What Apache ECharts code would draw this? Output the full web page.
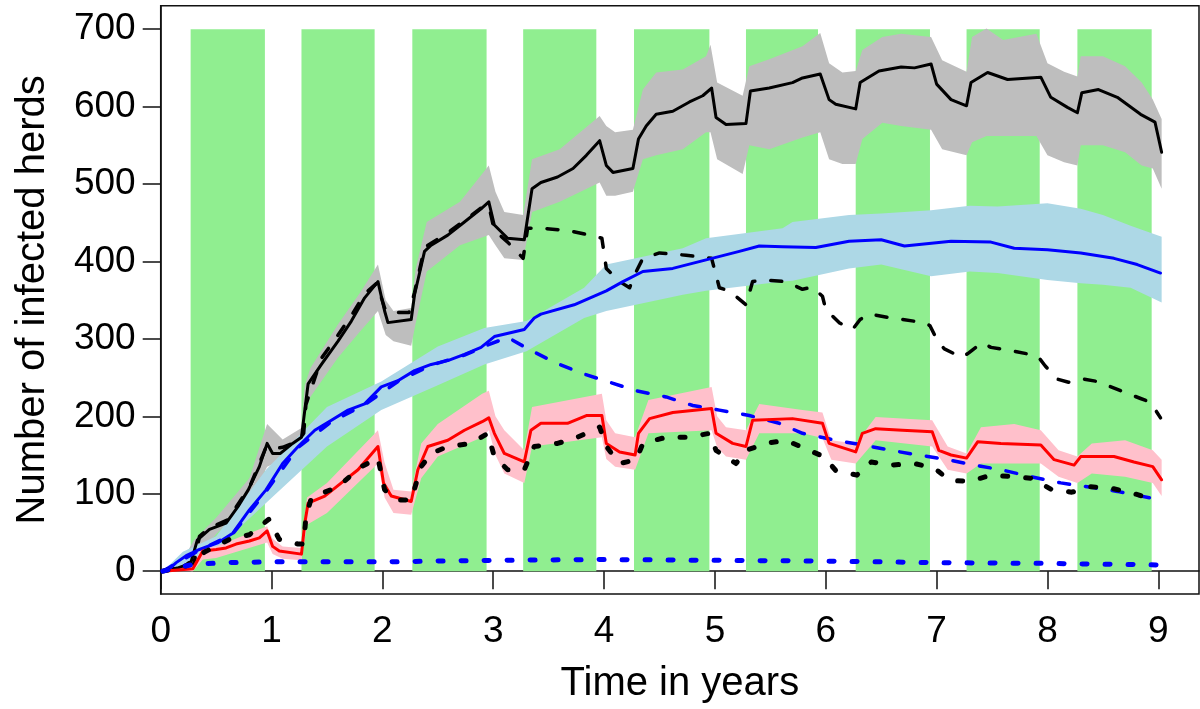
<!DOCTYPE html>
<html>
<head>
<meta charset="utf-8">
<script src="https://cdn.jsdelivr.net/npm/echarts@6/dist/echarts.min.js"></script>
<style>
html,body{margin:0;padding:0;background:#fff;}
#chart{width:1200px;height:709px;}
</style>
</head>
<body>
<div id="chart"></div>
<script>
// ---------- data ----------
var xTicks = [0,1,2,3,4,5,6,7,8,9];
var yTicks = [0,100,200,300,400,500,600,700];

// grazing-season bands (years)
var bandStarts = [0.27,1.27,2.27,3.27,4.27,5.28,6.27,7.27,8.27];
var bandEnds   = [0.94,1.93,2.94,3.93,4.95,5.93,6.94,7.93,8.94];
var bandBottom = 0;
var bandTop = 700;

var blackSolid = [[0.02,0],[0.15,4],[0.27,10],[0.33,40],[0.44,54],[0.59,62],[0.70,84],[0.79,105],[0.89,135],[0.96,165],[1.01,152],[1.08,152],[1.19,165],[1.27,173],[1.30,208],[1.33,242],[1.45,267],[1.60,297],[1.72,323],[1.84,353],[1.96,374],[2.02,336],[2.05,321],[2.26,325],[2.29,357],[2.38,413],[2.44,421],[2.59,434],[2.74,451],[2.89,468],[2.96,477],[3.01,447],[3.13,430],[3.28,428],[3.35,494],[3.43,502],[3.58,509],[3.72,520],[3.84,537],[3.96,556],[4.02,524],[4.08,515],[4.26,520],[4.31,558],[4.38,575],[4.47,590],[4.62,594],[4.77,606],[4.89,614],[4.97,624],[5.01,586],[5.10,577],[5.28,578],[5.32,620],[5.49,624],[5.70,631],[5.79,637],[5.95,642],[6.03,609],[6.09,603],[6.27,597],[6.31,631],[6.48,646],[6.68,651],[6.80,650],[6.95,655],[7.00,629],[7.13,609],[7.27,601],[7.31,631],[7.46,644],[7.64,635],[7.94,638],[8.03,612],[8.18,599],[8.27,592],[8.31,618],[8.46,622],[8.63,612],[8.84,590],[8.97,580],[9.03,541]];

var grayX    = [0.02,0.2,0.3,0.5,0.8,0.96,1.1,1.27,1.3,1.35,1.6,1.8,1.96,2.03,2.1,2.26,2.3,2.4,2.7,2.96,3.02,3.1,3.27,3.35,3.6,3.96,4.02,4.1,4.26,4.35,4.47,4.71,4.92,4.96,5.02,5.25,5.31,5.49,5.79,5.95,6.03,6.15,6.27,6.33,6.51,6.68,6.95,7.05,7.27,7.32,7.45,7.6,7.9,8.0,8.15,8.27,8.3,8.5,8.7,8.85,8.95,9.03];
var grayLow  = [0,2,10,48,90,135,144,160,200,225,276,310,336,305,297,291,320,387,421,434,421,404,402,464,477,502,485,485,490,532,537,545,567,567,532,513,550,545,560,567,532,526,526,558,579,575,570,545,537,554,562,562,562,537,528,524,550,550,541,524,520,494];
var grayHigh = [0,15,40,69,120,190,170,185,240,262,319,360,396,350,336,340,390,451,477,524,490,464,460,532,545,588,575,567,570,622,644,648,665,680,631,614,652,661,678,695,656,644,646,673,690,694,690,660,645,690,701,686,694,656,645,639,665,665,652,631,609,584];

var blackDashed = [[0.02,0],[0.3,10],[0.35,45],[0.44,56],[0.6,66],[0.8,108],[0.95,160],[1.0,158],[1.1,160],[1.24,168],[1.29,178],[1.31,215],[1.45,275],[1.6,305],[1.72,330],[1.84,358],[1.95,372],[2.02,340],[2.05,334],[2.24,334],[2.29,360],[2.38,418],[2.6,438],[2.9,470],[2.96,472],[3.01,440],[3.13,425],[3.27,404],[3.31,443],[3.43,443],[3.67,440],[3.87,434],[3.98,430],[4.02,391],[4.14,374],[4.23,366],[4.29,387],[4.35,404],[4.5,411],[4.74,408],[4.97,404],[5.04,366],[5.13,362],[5.28,344],[5.34,374],[5.43,376],[5.64,374],[5.79,364],[5.88,367],[5.97,355],[6.00,338],[6.12,321],[6.24,312],[6.31,325],[6.39,332],[6.59,327],[6.89,321],[6.94,317],[7.01,297],[7.07,287],[7.23,276],[7.29,282],[7.41,295],[7.49,289],[7.70,284],[7.91,278],[7.98,265],[8.09,248],[8.19,244],[8.33,248],[8.45,245],[8.66,233],[8.84,223],[8.93,218],[9.02,198]];

var blueSolid = [[0.02,0],[0.07,2],[0.14,11],[0.23,20],[0.35,28],[0.52,37],[0.65,49],[0.8,79],[0.95,105],[1.10,139],[1.24,161],[1.39,182],[1.54,195],[1.69,208],[1.84,216],[1.99,238],[2.14,246],[2.29,259],[2.44,267],[2.59,272],[2.74,280],[2.89,289],[3.01,303],[3.28,312],[3.37,327],[3.43,332],[3.73,344],[4.02,362],[4.17,374],[4.35,387],[4.62,391],[4.92,402],[5.22,413],[5.40,420],[5.61,419],[5.91,418],[6.21,426],[6.50,428],[6.71,420],[7.13,426],[7.49,425],[7.70,417],[8.00,415],[8.30,411],[8.60,404],[8.81,396],[9.02,385]];

var lightBlueX    = [0.02,0.2,0.5,0.95,1.5,1.99,2.5,2.92,3.3,3.82,4.02,4.71,4.92,5.61,5.7,6.21,6.5,6.95,7.3,7.55,8.0,8.3,8.5,8.75,9.03];
var lightBlueLow  = [0,5,28,88,161,208,240,267,284,327,336,357,362,374,375,391,396,381,387,385,376,372,370,366,347];
var lightBlueHigh = [0,25,45,131,212,245,290,314,323,366,396,417,430,443,451,460,462,466,472,471,475,468,460,446,432];

var blueDashed = [[0.02,0],[0.14,10],[0.35,27],[0.65,48],[0.95,103],[1.24,160],[1.54,193],[1.84,215],[2.14,245],[2.44,266],[2.74,279],[2.95,292],[3.13,302],[3.34,285],[3.58,268],[3.81,255],[4.05,244],[4.29,233],[4.56,225],[4.80,214],[5.04,208],[5.31,201],[5.58,191],[5.79,178],[6.09,169],[6.33,163],[6.59,156],[6.83,150],[7.10,144],[7.34,137],[7.58,131],[7.85,122],[8.12,114],[8.36,109],[8.63,103],[8.95,94]];

var blueDotted = [[0.02,0],[0.1,3],[0.3,9],[0.6,11],[1,12],[2,12],[3,14],[4,15],[5,14],[6,13],[7,11],[8,10],[9.02,8]];

var redSolid = [[0.02,0],[0.29,3],[0.38,26],[0.50,28],[0.59,30],[0.68,35],[0.80,39],[0.89,43],[0.96,52],[1.01,32],[1.07,26],[1.27,22],[1.30,62],[1.33,88],[1.48,97],[1.63,114],[1.78,131],[1.96,161],[2.01,114],[2.08,97],[2.26,90],[2.32,131],[2.41,161],[2.59,169],[2.74,182],[2.90,193],[2.96,198],[3.01,178],[3.10,152],[3.28,141],[3.34,182],[3.43,191],[3.67,191],[3.84,201],[3.98,201],[4.02,165],[4.14,154],[4.28,150],[4.31,178],[4.41,197],[4.62,205],[4.97,210],[5.01,178],[5.16,165],[5.28,161],[5.34,195],[5.70,197],[5.97,191],[6.03,165],[6.27,154],[6.33,178],[6.45,184],[6.69,182],[6.96,180],[7.02,156],[7.13,150],[7.27,146],[7.37,167],[7.58,165],[7.94,163],[8.06,144],[8.24,137],[8.30,148],[8.60,148],[8.78,141],[8.95,135],[9.03,118]];

var pinkX    = [0.02,0.29,0.38,0.5,0.96,1.01,1.1,1.27,1.32,1.5,1.96,2.02,2.1,2.26,2.35,2.5,2.9,2.96,3.02,3.1,3.28,3.35,3.98,4.02,4.1,4.28,4.4,4.97,5.02,5.1,5.28,5.4,5.79,5.97,6.05,6.27,6.45,6.96,7.1,7.27,7.4,7.7,7.94,8.1,8.27,8.4,8.7,8.95,9.03];
var pinkLow  = [0,0,15,17,37,22,16,14,60,75,139,95,75,73,120,148,173,182,150,126,114,161,173,145,135,131,178,182,160,148,144,178,178,172,144,139,169,161,131,126,139,139,139,122,114,126,122,114,97];
var pinkHigh = [0,8,32,32,58,42,32,30,95,114,182,140,105,103,165,190,229,233,200,182,156,212,229,195,178,173,221,238,200,186,182,216,208,205,169,165,199,195,161,152,186,190,182,156,148,165,169,156,144];

var blackDotted = [[0.02,0],[0.23,7],[0.4,25],[0.62,41],[0.80,47],[0.975,67],[1.07,41],[1.24,35],[1.29,35],[1.31,70],[1.36,95],[1.60,109],[1.81,135],[1.96,146],[2.02,105],[2.14,92],[2.26,92],[2.35,135],[2.44,152],[2.59,161],[2.80,165],[2.95,178],[3.01,148],[3.13,131],[3.28,131],[3.37,161],[3.58,165],[3.76,173],[3.96,186],[4.02,161],[4.14,139],[4.29,144],[4.35,165],[4.56,173],[4.77,173],[4.95,178],[5.01,156],[5.19,139],[5.28,156],[5.46,165],[5.64,169],[5.82,158],[5.98,148],[6.09,130],[6.28,124],[6.41,141],[6.59,137],[6.80,139],[6.98,133],[7.12,117],[7.30,116],[7.49,124],[7.69,122],[7.86,120],[8.03,106],[8.22,102],[8.39,109],[8.58,107],[8.76,101],[8.97,92]];

// ---------- helpers ----------
function bandSeries(xs, low, high, color) {
  return {
    type: 'custom',
    silent: true,
    clip: true,
    data: [[xs[0], low[0]]],
    renderItem: function (params, api) {
      var pts = [];
      for (var i = 0; i < xs.length; i++) pts.push(api.coord([xs[i], high[i]]));
      for (var j = xs.length - 1; j >= 0; j--) pts.push(api.coord([xs[j], low[j]]));
      return { type: 'polygon', shape: { points: pts }, style: { fill: color } };
    }
  };
}
function lineSeries(data, color, width, dash, cap) {
  return {
    type: 'line',
    data: data,
    symbol: 'none',
    showSymbol: false,
    silent: true,
    lineStyle: { color: color, width: width, type: dash, cap: cap || 'round', join: 'round' }
  };
}

var FONT = 'Liberation Sans, Arial, sans-serif';
var chart = echarts.init(document.getElementById('chart'));
chart.setOption({
  animation: false,
  backgroundColor: '#ffffff',
  grid: { left: 160.7, top: 5.7, right: 1, bottom: 110.7, show: true, borderColor: '#111', borderWidth: 1.5, containLabel: false },
  xAxis: {
    type: 'value',
    min: 0, max: 9.367,
    name: 'Time in years',
    nameLocation: 'middle',
    nameGap: 70,
    nameTextStyle: { fontFamily: FONT, fontSize: 40, color: '#000' },
    axisLine: { show: true, lineStyle: { color: '#111', width: 1.5 } },
    axisTick: { show: true, inside: false, length: 18, customValues: xTicks, lineStyle: { color: '#111', width: 1.5 } },
    axisLabel: { customValues: xTicks, margin: 19, fontFamily: FONT, fontSize: 37, color: '#000' },
    splitLine: { show: false }
  },
  yAxis: {
    type: 'value',
    min: -29.5, max: 730.3,
    name: 'Number of infected herds',
    nameLocation: 'middle',
    nameGap: 108,
    nameTextStyle: { fontFamily: FONT, fontSize: 40, color: '#000' },
    axisLine: { show: true, lineStyle: { color: '#111', width: 1.5 } },
    axisTick: { show: true, inside: false, length: 18, customValues: yTicks, lineStyle: { color: '#111', width: 1.5 } },
    axisLabel: { customValues: yTicks, margin: 25, fontFamily: FONT, fontSize: 37, color: '#000' },
    splitLine: { show: false }
  },
  series: [
    {
      type: 'custom',
      silent: true,
      data: bandStarts.map(function (s, i) { return [s, bandEnds[i]]; }),
      encode: { x: [0, 1] },
      renderItem: function (params, api) {
        var p0 = api.coord([api.value(0), bandTop]);
        var p1 = api.coord([api.value(1), bandBottom]);
        return { type: 'rect', shape: { x: p0[0], y: p0[1], width: p1[0] - p0[0], height: p1[1] - p0[1] }, style: { fill: '#90EE90' } };
      }
    },
    bandSeries(grayX, grayLow, grayHigh, '#BEBEBE'),
    bandSeries(lightBlueX, lightBlueLow, lightBlueHigh, '#ADD8E6'),
    bandSeries(pinkX, pinkLow, pinkHigh, '#FFC0CB'),
    lineSeries(blackSolid, '#000000', 3, 'solid'),
    lineSeries(blackDashed, '#000000', 3.5, [11, 16]),
    lineSeries(blueSolid, '#0000FF', 3, 'solid'),
    lineSeries(blueDashed, '#0000FF', 3.5, [11, 16]),
    lineSeries(redSolid, '#FF0000', 3, 'solid'),
    lineSeries(blackDotted, '#000000', 5, [5, 18]),
    lineSeries(blueDotted, '#0000FF', 5, [5, 18])
  ]
});
</script>
</body>
</html>
